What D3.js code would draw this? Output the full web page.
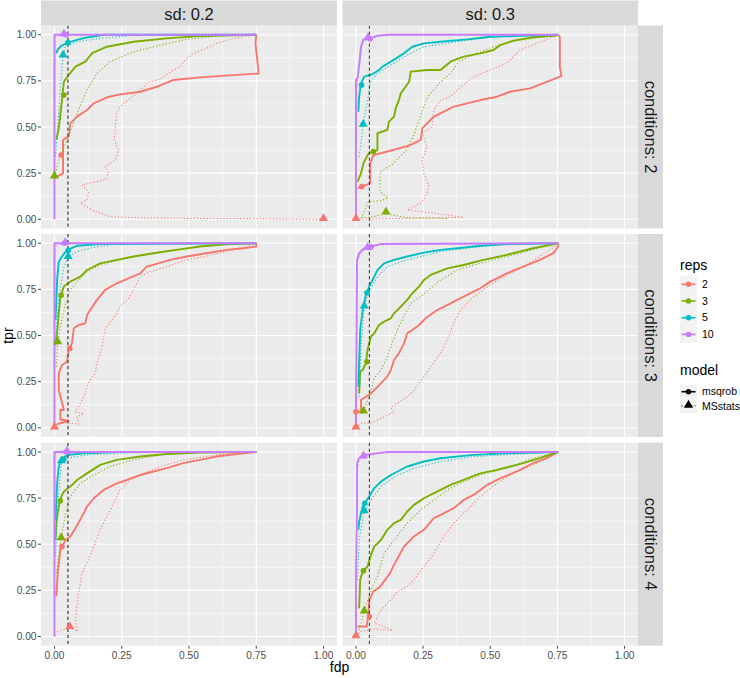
<!DOCTYPE html>
<html>
<head>
<meta charset="utf-8">
<script src="https://cdn.jsdelivr.net/npm/d3@7"></script>
<style>
  body { margin: 0; background: #fff; }
  svg { display: block; font-family: "Liberation Sans", Arial, sans-serif; }
</style>
</head>
<body>
<svg id="chart" width="740" height="678"></svg>
<script>
// ---------- categories & ticks ----------
const sdLevels = ["0.2", "0.3"];
const condLevels = ["2", "3", "4"];
const repLevels = ["2", "3", "5", "10"];
const modelLevels = ["msqrob", "MSstats"];
const xTicks = [0, 0.25, 0.5, 0.75, 1];
const yTicks = [0, 0.25, 0.5, 0.75, 1];
const fdrCutoff = 0.05;

// ---------- sd 0.2, conditions 2 ----------  [fdp, tpr]
const sd02_c2_r2_msqrob = [[0.01,0.231],[0.032,0.249],[0.032,0.43],[0.053,0.448],[0.059,0.52],[0.084,0.556],[0.121,0.592],[0.146,0.628],[0.195,0.661],[0.244,0.677],[0.319,0.691],[0.38,0.718],[0.442,0.755],[0.541,0.769],[0.759,0.79],[0.747,0.953],[0.75,1]];
const sd02_c2_r2_MSstats = [[1.0,0],[0.667,0.004],[0.491,0.005],[0.343,0.007],[0.207,0.014],[0.14,0.05],[0.109,0.078],[0.096,0.087],[0.121,0.105],[0.127,0.15],[0.102,0.186],[0.158,0.204],[0.189,0.213],[0.201,0.249],[0.189,0.285],[0.226,0.321],[0.238,0.375],[0.222,0.43],[0.226,0.493],[0.23,0.565],[0.244,0.61],[0.281,0.655],[0.319,0.70],[0.349,0.744],[0.393,0.758],[0.43,0.798],[0.467,0.827],[0.491,0.872],[0.516,0.899],[0.565,0.926],[0.602,0.953],[0.664,0.98],[0.75,1]];
const sd02_c2_r3_msqrob = [[0.007,0.43],[0.016,0.493],[0.028,0.646],[0.035,0.745],[0.053,0.782],[0.078,0.827],[0.115,0.854],[0.14,0.9],[0.195,0.935],[0.294,0.962],[0.417,0.98],[0.54,0.993],[0.75,1]];
const sd02_c2_r3_MSstats = [[0,0.231],[0.016,0.321],[0.047,0.43],[0.084,0.574],[0.121,0.70],[0.158,0.79],[0.207,0.854],[0.294,0.908],[0.393,0.944],[0.491,0.975],[0.64,0.998],[0.75,1]];
const sd02_c2_r5_msqrob = [[0.007,0.90],[0.012,0.92],[0.025,0.94],[0.05,0.957],[0.09,0.975],[0.12,0.985],[0.185,1],[0.75,1]];
const sd02_c2_r5_MSstats = [[0.004,0.34],[0.016,0.59],[0.028,0.83],[0.032,0.886],[0.041,0.935],[0.084,0.962],[0.17,0.98],[0.32,1],[0.75,1]];
const sd02_c2_r10_msqrob = [[0,0],[0,1],[0.75,1]];
const sd02_c2_r10_MSstats = [[0,0],[0.002,0.95],[0.005,1],[0.75,1]];
const mk_sd02_c2_msqrob = [[0.025,0.348],[0.035,0.673],[0.05,0.957],[0.043,1]];
const mk_sd02_c2_MSstats = [[1.0,0],[0,0.231],[0.032,0.886],[0.035,1]];

// ---------- sd 0.3, conditions 2 ----------
const sd03_c2_r2_msqrob = [[0.006,0.168],[0.022,0.177],[0.053,0.195],[0.053,0.303],[0.065,0.348],[0.114,0.366],[0.2,0.40],[0.241,0.43],[0.247,0.493],[0.265,0.52],[0.29,0.556],[0.327,0.583],[0.364,0.61],[0.414,0.628],[0.463,0.646],[0.525,0.664],[0.574,0.691],[0.648,0.709],[0.71,0.745],[0.765,0.776],[0.759,0.827],[0.759,0.989],[0.753,1]];
const sd03_c2_r2_MSstats = [[0,0],[0.13,0.004],[0.25,0.008],[0.4,0.01],[0.302,0.032],[0.191,0.05],[0.241,0.087],[0.259,0.123],[0.272,0.177],[0.253,0.249],[0.247,0.321],[0.265,0.393],[0.247,0.466],[0.284,0.502],[0.29,0.592],[0.315,0.646],[0.352,0.664],[0.383,0.709],[0.438,0.772],[0.5,0.809],[0.562,0.845],[0.611,0.917],[0.673,0.953],[0.753,1]];
const sd03_c2_r3_msqrob = [[0.006,0.204],[0.019,0.249],[0.028,0.303],[0.047,0.357],[0.065,0.367],[0.08,0.375],[0.08,0.466],[0.117,0.484],[0.123,0.529],[0.142,0.556],[0.148,0.601],[0.16,0.646],[0.167,0.682],[0.198,0.745],[0.204,0.80],[0.265,0.809],[0.315,0.809],[0.352,0.854],[0.401,0.881],[0.463,0.899],[0.512,0.917],[0.537,0.944],[0.586,0.968],[0.66,0.986],[0.747,0.996],[0.753,1]];
const sd03_c2_r3_MSstats = [[0.34,0.004],[0.2,0.006],[0.112,0.03],[0.05,0.01],[0.02,0.01],[0.047,0.095],[0.09,0.1],[0.12,0.114],[0.09,0.15],[0.09,0.258],[0.133,0.294],[0.151,0.321],[0.188,0.375],[0.213,0.447],[0.235,0.538],[0.267,0.664],[0.315,0.745],[0.352,0.79],[0.383,0.854],[0.45,0.9],[0.512,0.935],[0.6,0.968],[0.753,1]];
const sd03_c2_r5_msqrob = [[0.009,0.583],[0.012,0.664],[0.019,0.736],[0.031,0.773],[0.062,0.787],[0.086,0.809],[0.099,0.827],[0.13,0.854],[0.179,0.899],[0.21,0.935],[0.253,0.953],[0.315,0.962],[0.414,0.975],[0.5,0.989],[0.636,0.995],[0.753,1]];
const sd03_c2_r5_MSstats = [[0.012,0.339],[0.027,0.511],[0.043,0.646],[0.056,0.755],[0.08,0.79],[0.13,0.836],[0.191,0.89],[0.253,0.935],[0.377,0.962],[0.5,0.986],[0.753,1]];
const sd03_c2_r10_msqrob = [[0,0],[0,0.755],[0.006,0.765],[0.012,0.83],[0.019,0.935],[0.028,0.975],[0.053,0.978],[0.08,0.995],[0.12,1],[0.753,1]];
const sd03_c2_r10_MSstats = [[0.002,0.3],[0.004,0.72],[0.01,0.85],[0.018,0.94],[0.03,0.97],[0.05,0.982],[0.1,0.995],[0.2,1],[0.753,1]];
const mk_sd03_c2_msqrob = [[0.022,0.177],[0.065,0.367],[0.021,0.727],[0.053,0.978]];
const mk_sd03_c2_MSstats = [[0,0],[0.112,0.036],[0.027,0.511],[0.045,0.98]];

// ---------- sd 0.2, conditions 3 ----------
const sd02_c3_r2_msqrob = [[0.01,0.02],[0.053,0.038],[0.022,0.045],[0.022,0.096],[0.035,0.096],[0.016,0.204],[0.016,0.295],[0.028,0.34],[0.047,0.358],[0.053,0.421],[0.065,0.457],[0.072,0.539],[0.09,0.557],[0.115,0.566],[0.121,0.611],[0.133,0.638],[0.158,0.693],[0.189,0.747],[0.232,0.783],[0.275,0.81],[0.319,0.837],[0.343,0.873],[0.386,0.891],[0.43,0.91],[0.491,0.928],[0.565,0.946],[0.64,0.964],[0.701,0.973],[0.75,0.982],[0.75,1]];
const sd02_c3_r2_MSstats = [[0,0],[0.01,0.024],[0.047,0.027],[0.09,0.02],[0.084,0.06],[0.109,0.078],[0.078,0.085],[0.096,0.132],[0.115,0.186],[0.127,0.25],[0.152,0.295],[0.158,0.35],[0.177,0.44],[0.189,0.54],[0.22,0.593],[0.244,0.656],[0.281,0.71],[0.319,0.82],[0.356,0.846],[0.417,0.873],[0.491,0.91],[0.565,0.93],[0.664,0.964],[0.75,0.996]];
const sd02_c3_r3_msqrob = [[0.004,0.448],[0.012,0.548],[0.016,0.62],[0.022,0.711],[0.035,0.765],[0.059,0.792],[0.096,0.819],[0.121,0.855],[0.17,0.891],[0.232,0.91],[0.294,0.928],[0.368,0.946],[0.454,0.964],[0.541,0.982],[0.64,0.995],[0.75,1]];
const sd02_c3_r3_MSstats = [[0.007,0.331],[0.012,0.463],[0.022,0.548],[0.041,0.674],[0.059,0.747],[0.084,0.792],[0.121,0.846],[0.17,0.882],[0.244,0.91],[0.331,0.937],[0.417,0.96],[0.541,0.982],[0.75,1]];
const sd02_c3_r5_msqrob = [[0.004,0.584],[0.01,0.801],[0.016,0.90],[0.028,0.928],[0.047,0.964],[0.084,0.986],[0.17,0.996],[0.75,1]];
const sd02_c3_r5_MSstats = [[0.004,0.476],[0.016,0.711],[0.035,0.873],[0.051,0.924],[0.084,0.955],[0.146,0.978],[0.232,0.996],[0.75,1]];
const sd02_c3_r10_msqrob = [[0,0],[0,1],[0.75,1]];
const sd02_c3_r10_MSstats = [[0,0],[0.002,0.97],[0.01,1],[0.75,1]];
const mk_sd02_c3_msqrob = [[0.057,0.43],[0.025,0.718],[0.051,0.96],[0.037,1]];
const mk_sd02_c3_MSstats = [[0,0],[0.012,0.463],[0.051,0.924],[0.04,1]];

// ---------- sd 0.3, conditions 3 ----------
const sd03_c3_r2_msqrob = [[0,0.087],[0.019,0.087],[0.019,0.15],[0.037,0.168],[0.056,0.186],[0.08,0.222],[0.099,0.25],[0.117,0.277],[0.13,0.313],[0.142,0.367],[0.16,0.403],[0.179,0.457],[0.191,0.512],[0.21,0.53],[0.235,0.557],[0.259,0.593],[0.302,0.638],[0.34,0.665],[0.377,0.693],[0.414,0.72],[0.463,0.756],[0.5,0.792],[0.562,0.837],[0.623,0.873],[0.685,0.91],[0.735,0.946],[0.753,0.982],[0.753,1]];
const sd03_c3_r2_MSstats = [[0,0],[0.019,0.024],[0.056,0.027],[0.093,0.05],[0.142,0.087],[0.13,0.11],[0.154,0.132],[0.191,0.168],[0.216,0.204],[0.253,0.277],[0.278,0.33],[0.315,0.403],[0.34,0.475],[0.364,0.566],[0.389,0.638],[0.438,0.71],[0.5,0.774],[0.562,0.828],[0.623,0.873],[0.685,0.928],[0.753,0.996]];
const sd03_c3_r3_msqrob = [[0.012,0.186],[0.016,0.304],[0.025,0.313],[0.037,0.349],[0.043,0.421],[0.056,0.494],[0.068,0.512],[0.086,0.557],[0.105,0.575],[0.13,0.593],[0.142,0.62],[0.167,0.656],[0.191,0.693],[0.21,0.729],[0.235,0.765],[0.253,0.801],[0.278,0.828],[0.309,0.846],[0.34,0.864],[0.401,0.882],[0.475,0.91],[0.562,0.937],[0.66,0.973],[0.753,1]];
const sd03_c3_r3_MSstats = [[0.019,0.08],[0.028,0.087],[0.056,0.204],[0.068,0.268],[0.093,0.313],[0.117,0.385],[0.136,0.467],[0.154,0.53],[0.179,0.602],[0.204,0.674],[0.241,0.711],[0.278,0.756],[0.315,0.801],[0.377,0.855],[0.438,0.882],[0.512,0.91],[0.611,0.946],[0.698,0.982],[0.753,1]];
const sd03_c3_r5_msqrob = [[0.009,0.222],[0.012,0.349],[0.016,0.53],[0.025,0.638],[0.037,0.72],[0.049,0.765],[0.062,0.801],[0.08,0.855],[0.105,0.891],[0.142,0.91],[0.191,0.928],[0.253,0.949],[0.315,0.964],[0.377,0.973],[0.463,0.986],[0.562,0.996],[0.753,1]];
const sd03_c3_r5_MSstats = [[0.012,0.168],[0.019,0.439],[0.031,0.656],[0.049,0.738],[0.08,0.819],[0.117,0.873],[0.167,0.9],[0.241,0.928],[0.315,0.955],[0.414,0.973],[0.537,0.991],[0.753,1]];
const sd03_c3_r10_msqrob = [[0,0],[0,0.04],[0.004,0.91],[0.012,0.946],[0.031,0.973],[0.056,0.982],[0.093,0.996],[0.753,1]];
const sd03_c3_r10_MSstats = [[0,0],[0.003,0.6],[0.006,0.9],[0.015,0.94],[0.035,0.97],[0.07,0.99],[0.15,1],[0.753,1]];
const mk_sd03_c3_msqrob = [[0,0.087],[0.041,0.358],[0.041,0.732],[0.056,0.98]];
const mk_sd03_c3_MSstats = [[0,0],[0.028,0.087],[0.031,0.656],[0.043,0.973]];

// ---------- sd 0.2, conditions 4 ----------
const sd02_c4_r2_msqrob = [[0.007,0.217],[0.012,0.343],[0.022,0.469],[0.041,0.523],[0.059,0.542],[0.078,0.587],[0.096,0.632],[0.121,0.704],[0.146,0.749],[0.183,0.794],[0.232,0.83],[0.269,0.848],[0.319,0.875],[0.368,0.894],[0.417,0.912],[0.479,0.939],[0.541,0.957],[0.602,0.975],[0.677,0.989],[0.75,1]];
const sd02_c4_r2_MSstats = [[0.01,0.025],[0.057,0.05],[0.086,0.027],[0.078,0.081],[0.086,0.199],[0.102,0.343],[0.121,0.397],[0.146,0.487],[0.17,0.578],[0.195,0.65],[0.22,0.722],[0.244,0.794],[0.281,0.848],[0.331,0.884],[0.393,0.921],[0.479,0.957],[0.602,0.984],[0.75,1]];
const sd02_c4_r3_msqrob = [[0.004,0.523],[0.007,0.614],[0.016,0.704],[0.02,0.74],[0.035,0.785],[0.059,0.812],[0.084,0.848],[0.121,0.884],[0.17,0.93],[0.232,0.957],[0.319,0.975],[0.417,0.989],[0.541,0.996],[0.75,1]];
const sd02_c4_r3_MSstats = [[0.007,0.343],[0.025,0.532],[0.041,0.668],[0.059,0.758],[0.096,0.83],[0.146,0.875],[0.207,0.921],[0.294,0.957],[0.393,0.984],[0.541,0.996],[0.75,1]];
const sd02_c4_r5_msqrob = [[0.004,0.632],[0.01,0.83],[0.016,0.921],[0.028,0.966],[0.053,0.984],[0.109,0.993],[0.232,1],[0.75,1]];
const sd02_c4_r5_MSstats = [[0.004,0.433],[0.012,0.704],[0.026,0.948],[0.047,0.966],[0.121,0.984],[0.294,0.996],[0.75,1]];
const sd02_c4_r10_msqrob = [[0,0],[0,1],[0.75,1]];
const sd02_c4_r10_MSstats = [[0,0],[0.002,0.98],[0.01,1],[0.75,1]];
const mk_sd02_c4_msqrob = [[0.028,0.487],[0.022,0.735],[0.035,0.96],[0.043,1]];
const mk_sd02_c4_MSstats = [[0.057,0.05],[0.025,0.532],[0.026,0.948],[0.047,1]];

// ---------- sd 0.3, conditions 4 ----------
const sd03_c4_r2_msqrob = [[0.006,0.054],[0.04,0.054],[0.046,0.118],[0.05,0.2],[0.065,0.244],[0.09,0.27],[0.127,0.343],[0.145,0.397],[0.179,0.487],[0.216,0.542],[0.253,0.578],[0.29,0.641],[0.315,0.659],[0.364,0.695],[0.401,0.74],[0.438,0.767],[0.488,0.821],[0.537,0.857],[0.599,0.894],[0.66,0.939],[0.71,0.966],[0.753,1]];
const sd03_c4_r2_MSstats = [[0,0],[0.019,0.027],[0.068,0.04],[0.136,0.033],[0.105,0.054],[0.068,0.072],[0.093,0.144],[0.13,0.199],[0.154,0.244],[0.191,0.271],[0.216,0.307],[0.253,0.379],[0.29,0.451],[0.327,0.542],[0.364,0.614],[0.414,0.686],[0.463,0.758],[0.525,0.83],[0.586,0.884],[0.66,0.93],[0.753,1]];
const sd03_c4_r3_msqrob = [[0.012,0.153],[0.016,0.307],[0.025,0.352],[0.043,0.379],[0.056,0.442],[0.068,0.487],[0.093,0.523],[0.117,0.578],[0.142,0.614],[0.167,0.632],[0.191,0.677],[0.216,0.713],[0.253,0.749],[0.302,0.785],[0.352,0.821],[0.401,0.848],[0.463,0.884],[0.525,0.903],[0.599,0.93],[0.685,0.966],[0.753,1]];
const sd03_c4_r3_MSstats = [[0.012,0.036],[0.031,0.135],[0.056,0.253],[0.08,0.325],[0.105,0.451],[0.142,0.523],[0.191,0.614],[0.241,0.686],[0.29,0.74],[0.34,0.794],[0.401,0.839],[0.463,0.875],[0.562,0.912],[0.66,0.966],[0.753,1]];
const sd03_c4_r5_msqrob = [[0.009,0.578],[0.012,0.623],[0.025,0.704],[0.037,0.731],[0.049,0.758],[0.068,0.803],[0.093,0.839],[0.13,0.875],[0.191,0.921],[0.253,0.948],[0.315,0.966],[0.438,0.984],[0.562,0.993],[0.753,1]];
const sd03_c4_r5_MSstats = [[0.006,0.307],[0.012,0.523],[0.031,0.677],[0.056,0.74],[0.093,0.812],[0.142,0.866],[0.216,0.912],[0.315,0.948],[0.438,0.975],[0.753,1]];
const sd03_c4_r10_msqrob = [[0,0],[0,0.307],[0.004,0.704],[0.004,0.939],[0.012,0.966],[0.031,0.984],[0.117,1],[0.753,1]];
const sd03_c4_r10_MSstats = [[0,0],[0.002,0.5],[0.005,0.92],[0.015,0.96],[0.035,0.975],[0.08,0.99],[0.15,1],[0.753,1]];
const mk_sd03_c4_msqrob = [[0.05,0.108],[0.028,0.356],[0.033,0.722],[0.031,0.978]];
const mk_sd03_c4_MSstats = [[0,0],[0.031,0.135],[0.031,0.677],[0.028,0.975]];

// ---------- lookup tables built from the arrays ----------
const curveTable = {
  "0.2|2": {"2":[sd02_c2_r2_msqrob,sd02_c2_r2_MSstats],"3":[sd02_c2_r3_msqrob,sd02_c2_r3_MSstats],"5":[sd02_c2_r5_msqrob,sd02_c2_r5_MSstats],"10":[sd02_c2_r10_msqrob,sd02_c2_r10_MSstats]},
  "0.3|2": {"2":[sd03_c2_r2_msqrob,sd03_c2_r2_MSstats],"3":[sd03_c2_r3_msqrob,sd03_c2_r3_MSstats],"5":[sd03_c2_r5_msqrob,sd03_c2_r5_MSstats],"10":[sd03_c2_r10_msqrob,sd03_c2_r10_MSstats]},
  "0.2|3": {"2":[sd02_c3_r2_msqrob,sd02_c3_r2_MSstats],"3":[sd02_c3_r3_msqrob,sd02_c3_r3_MSstats],"5":[sd02_c3_r5_msqrob,sd02_c3_r5_MSstats],"10":[sd02_c3_r10_msqrob,sd02_c3_r10_MSstats]},
  "0.3|3": {"2":[sd03_c3_r2_msqrob,sd03_c3_r2_MSstats],"3":[sd03_c3_r3_msqrob,sd03_c3_r3_MSstats],"5":[sd03_c3_r5_msqrob,sd03_c3_r5_MSstats],"10":[sd03_c3_r10_msqrob,sd03_c3_r10_MSstats]},
  "0.2|4": {"2":[sd02_c4_r2_msqrob,sd02_c4_r2_MSstats],"3":[sd02_c4_r3_msqrob,sd02_c4_r3_MSstats],"5":[sd02_c4_r5_msqrob,sd02_c4_r5_MSstats],"10":[sd02_c4_r10_msqrob,sd02_c4_r10_MSstats]},
  "0.3|4": {"2":[sd03_c4_r2_msqrob,sd03_c4_r2_MSstats],"3":[sd03_c4_r3_msqrob,sd03_c4_r3_MSstats],"5":[sd03_c4_r5_msqrob,sd03_c4_r5_MSstats],"10":[sd03_c4_r10_msqrob,sd03_c4_r10_MSstats]}
};
const markerTable = {
  "0.2|2": [mk_sd02_c2_msqrob, mk_sd02_c2_MSstats],
  "0.3|2": [mk_sd03_c2_msqrob, mk_sd03_c2_MSstats],
  "0.2|3": [mk_sd02_c3_msqrob, mk_sd02_c3_MSstats],
  "0.3|3": [mk_sd03_c3_msqrob, mk_sd03_c3_MSstats],
  "0.2|4": [mk_sd02_c4_msqrob, mk_sd02_c4_MSstats],
  "0.3|4": [mk_sd03_c4_msqrob, mk_sd03_c4_MSstats]
};

// ---------- drawing ----------
const svg = d3.select("#chart");
const color = d3.scaleOrdinal().domain(repLevels).range(["#F8766D", "#7CAE00", "#00BFC4", "#C77CFF"]);
const colX = [[41, 337], [342.5, 638]];
const rowY = [[25.5, 228.5], [234, 437], [442.7, 645.7]];
const stripTop = 0.5, stripRightW = 25;

const lineStyle = {
  msqrob: { w: 1.9, dash: null },
  MSstats: { w: 1.1, dash: "1.1,2.2" }
};
const triSym = d3.symbol().type(d3.symbolTriangle).size(36);

condLevels.forEach((cond, ri) => {
  sdLevels.forEach((sd, ci) => {
    const [x0, x1] = colX[ci];
    const [y0, y1] = rowY[ri];
    const x = d3.scaleLinear().domain([-0.05, 1.05]).range([x0, x1]);
    const y = d3.scaleLinear().domain([-0.05, 1.05]).range([y1, y0]);
    const g = svg.append("g");
    const clipId = `clip-${ri}-${ci}`;
    svg.append("clipPath").attr("id", clipId).append("rect")
      .attr("x", x0).attr("y", y0).attr("width", x1 - x0).attr("height", y1 - y0);

    g.append("rect").attr("x", x0).attr("y", y0).attr("width", x1 - x0).attr("height", y1 - y0).attr("fill", "#EBEBEB");
    const minor = [0.125, 0.375, 0.625, 0.875];
    minor.forEach(v => {
      g.append("line").attr("x1", x(v)).attr("x2", x(v)).attr("y1", y0).attr("y2", y1).attr("stroke", "#fff").attr("stroke-width", 0.55);
      g.append("line").attr("y1", y(v)).attr("y2", y(v)).attr("x1", x0).attr("x2", x1).attr("stroke", "#fff").attr("stroke-width", 0.55);
    });
    xTicks.forEach(v => g.append("line").attr("x1", x(v)).attr("x2", x(v)).attr("y1", y0).attr("y2", y1).attr("stroke", "#fff").attr("stroke-width", 1.1));
    yTicks.forEach(v => g.append("line").attr("y1", y(v)).attr("y2", y(v)).attr("x1", x0).attr("x2", x1).attr("stroke", "#fff").attr("stroke-width", 1.1));

    const key = `${sd}|${cond}`;
    const plot = g.append("g").attr("clip-path", `url(#${clipId})`);
    const line = d3.line().x(d => x(d[0])).y(d => y(d[1]));
    repLevels.forEach(rep => {
      modelLevels.forEach((m, mi) => {
        const st = lineStyle[m];
        plot.append("path").attr("d", line(curveTable[key][rep][mi]))
          .attr("fill", "none").attr("stroke", color(rep))
          .attr("stroke-width", st.w).attr("stroke-linejoin", "round")
          .attr("stroke-dasharray", st.dash);
      });
    });
    // cutoff line
    plot.append("line").attr("x1", x(fdrCutoff)).attr("x2", x(fdrCutoff)).attr("y1", y0).attr("y2", y1)
      .attr("stroke", ci === 0 ? "#555" : "#222").attr("stroke-width", ci === 0 ? 1.4 : 0.9)
      .attr("stroke-dasharray", "3.3,2.7");
    // markers
    repLevels.forEach((rep, k) => {
      modelLevels.forEach((m, mi) => {
        const p = markerTable[key][mi][k];
        if (m === "msqrob") {
          plot.append("circle").attr("cx", x(p[0])).attr("cy", y(p[1])).attr("r", 2.8).attr("fill", color(rep));
        } else {
          plot.append("path").attr("d", triSym).attr("transform", `translate(${x(p[0])},${y(p[1]) - 0.8})`).attr("fill", color(rep));
        }
      });
    });

    // y axis (left column)
    if (ci === 0) {
      yTicks.forEach(v => {
        g.append("line").attr("x1", x0 - 3).attr("x2", x0).attr("y1", y(v)).attr("y2", y(v)).attr("stroke", "#333").attr("stroke-width", 0.9);
        g.append("text").attr("x", x0 - 4.5).attr("y", y(v) + 3.6).attr("text-anchor", "end")
          .attr("font-size", 10.2).attr("fill", "#4D4D4D").text(d3.format(".2f")(v));
      });
    }
    // x axis (bottom row)
    if (ri === condLevels.length - 1) {
      xTicks.forEach(v => {
        g.append("line").attr("x1", x(v)).attr("x2", x(v)).attr("y1", y1).attr("y2", y1 + 3).attr("stroke", "#333").attr("stroke-width", 0.9);
        g.append("text").attr("x", x(v)).attr("y", y1 + 12.8).attr("text-anchor", "middle")
          .attr("font-size", 10.2).attr("fill", "#4D4D4D").text(d3.format(".2f")(v));
      });
    }
    // top strip
    if (ri === 0) {
      g.append("rect").attr("x", x0).attr("y", stripTop).attr("width", x1 - x0).attr("height", y0 - stripTop).attr("fill", "#D9D9D9");
      g.append("text").attr("x", (x0 + x1) / 2).attr("y", 20).attr("text-anchor", "middle")
        .attr("font-size", 16.5).attr("fill", "#1A1A1A").text(`sd: ${sd}`);
    }
    // right strip
    if (ci === sdLevels.length - 1) {
      g.append("rect").attr("x", x1).attr("y", y0).attr("width", stripRightW).attr("height", y1 - y0).attr("fill", "#D9D9D9");
      const cy = (y0 + y1) / 2;
      g.append("text").attr("transform", `translate(${x1 + 6.5},${cy}) rotate(90)`).attr("text-anchor", "middle")
        .attr("font-size", 16.5).attr("fill", "#1A1A1A").text(`conditions: ${cond}`);
    }
  });
});

// axis titles
svg.append("text").attr("x", (colX[0][0] + colX[1][1]) / 2).attr("y", 672).attr("text-anchor", "middle")
  .attr("font-size", 14).attr("fill", "#000").text("fdp");
svg.append("text").attr("transform", `translate(13,${(rowY[0][0] + rowY[2][1]) / 2}) rotate(-90)`).attr("text-anchor", "middle")
  .attr("font-size", 14).attr("fill", "#000").text("tpr");

// legend: reps
const lg = svg.append("g");
const lx = 680, kw = 17;
lg.append("text").attr("x", lx).attr("y", 270).attr("font-size", 14).attr("fill", "#000").text("reps");
const repRowsY = [284.3, 301, 317.7, 334.4];
repLevels.forEach((rep, i) => {
  const cy = repRowsY[i];
  lg.append("rect").attr("x", lx).attr("y", cy - 8.3).attr("width", kw).attr("height", 16.6).attr("fill", "#F2F2F2");
  lg.append("line").attr("x1", lx + 1.5).attr("x2", lx + kw - 1.5).attr("y1", cy).attr("y2", cy).attr("stroke", color(rep)).attr("stroke-width", 1.6);
  lg.append("circle").attr("cx", lx + kw / 2).attr("cy", cy).attr("r", 2.7).attr("fill", color(rep));
  lg.append("text").attr("x", lx + kw + 5).attr("y", cy + 3.7).attr("font-size", 10.5).attr("fill", "#000").text(rep);
});
// legend: model
lg.append("text").attr("x", lx).attr("y", 375).attr("font-size", 14).attr("fill", "#000").text("model");
const modelRowsY = [391.7, 405.8];
modelLevels.forEach((m, i) => {
  const cy = modelRowsY[i];
  lg.append("rect").attr("x", lx).attr("y", cy - 7).attr("width", kw).attr("height", 14).attr("fill", "#F2F2F2");
  lg.append("line").attr("x1", lx + 1.5).attr("x2", lx + kw - 1.5).attr("y1", cy).attr("y2", cy).attr("stroke", "#000")
    .attr("stroke-width", m === "msqrob" ? 1.6 : 1.1).attr("stroke-dasharray", lineStyle[m].dash);
  if (m === "msqrob") {
    lg.append("circle").attr("cx", lx + kw / 2).attr("cy", cy).attr("r", 2.7).attr("fill", "#000");
  } else {
    lg.append("path").attr("d", triSym).attr("transform", `translate(${lx + kw / 2},${cy - 0.8})`).attr("fill", "#000");
  }
  lg.append("text").attr("x", lx + kw + 5).attr("y", cy + 3.7).attr("font-size", 10.5).attr("fill", "#000").text(m);
});
</script>
</body>
</html>
